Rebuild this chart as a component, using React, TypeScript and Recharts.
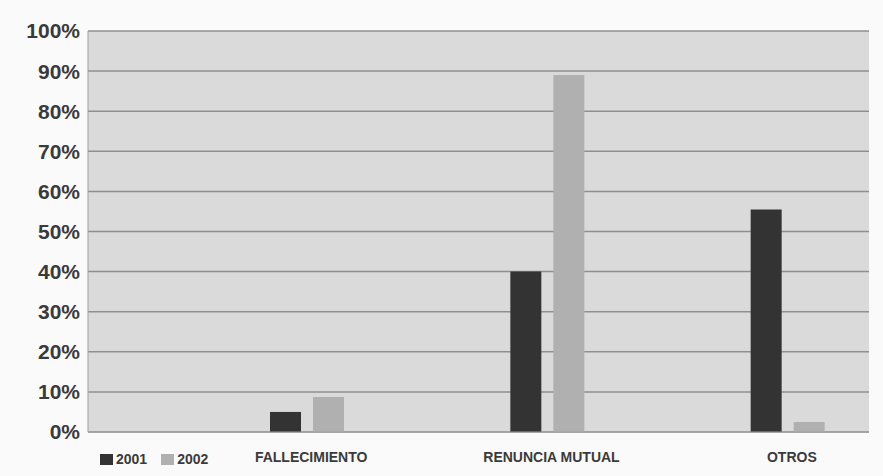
import { BarChart, Bar, XAxis, YAxis, CartesianGrid, Legend } from "recharts";

const categories = ["FALLECIMIENTO", "RENUNCIA MUTUAL", "OTROS"];
const values2001 = [5, 40, 55.5];
const values2002 = [8.7, 89, 2.5];
const yTicks = [0, 10, 20, 30, 40, 50, 60, 70, 80, 90, 100];

const data = categories.map((name, i) => ({
	name,
	y2001: values2001[i],
	y2002: values2002[i],
}));

const TEXT = "#3a3a3a";
const FONT = "Liberation Sans, Arial, sans-serif";

function renderLegend(props: any) {
	const { payload } = props;
	return (
		<div style={{ display: "flex", alignItems: "center", fontFamily: FONT }}>
			{(payload || []).map((entry: any) => (
				<div key={entry.value} style={{ display: "flex", alignItems: "center", marginRight: 14 }}>
					<span style={{ display: "inline-block", width: 13, height: 11, background: entry.color, marginRight: 3 }} />
					<span style={{ color: TEXT, fontSize: 14, fontWeight: "bold" }}>{entry.value}</span>
				</div>
			))}
		</div>
	);
}

export default function App() {
	return (
		<div style={{ position: "absolute", left: 0, top: 0, width: 883, height: 476, background: "#fafafa" }}>
			<BarChart
				width={883}
				height={476}
				data={data}
				margin={{ top: 31, right: 14, left: 0, bottom: 0 }}
				barSize={31}
				barGap={12}
			>
				<CartesianGrid
					vertical={false}
					fill="#dadada"
					stroke="#8f8f8f"
					strokeWidth={1.5}
				/>
				<XAxis
					dataKey="name"
					height={44}
					padding={{ left: 99, right: -39 }}
					axisLine={{ stroke: "#a0a0a0" }}
					tickLine={false}
					tickSize={0}
					tickMargin={20}
					tick={{ fill: TEXT, fontSize: 14, fontWeight: "bold", fontFamily: FONT, dx: 4 }}
				/>
				<YAxis
					width={88}
					domain={[0, 100]}
					ticks={yTicks}
					interval={0}
					tickFormatter={(v: number) => `${v}%`}
					axisLine={{ stroke: "#a0a0a0" }}
					tickLine={false}
					tickSize={0}
					tickMargin={8}
					tick={{ fill: TEXT, fontSize: 21, fontWeight: "bold", fontFamily: FONT }}
				/>
				<YAxis
					yAxisId="right"
					orientation="right"
					width={0}
					domain={[0, 100]}
					tick={false}
					tickLine={false}
					axisLine={{ stroke: "#a0a0a0" }}
				/>
				<Legend
					layout="horizontal"
					verticalAlign="middle"
					align="center"
					wrapperStyle={{ left: 100, top: 451, width: "auto", height: "auto" }}
					content={renderLegend}
				/>
				<Bar dataKey="y2001" name="2001" fill="#333333" isAnimationActive={false} />
				<Bar dataKey="y2002" name="2002" fill="#b0b0b0" isAnimationActive={false} />
			</BarChart>
		</div>
	);
}
